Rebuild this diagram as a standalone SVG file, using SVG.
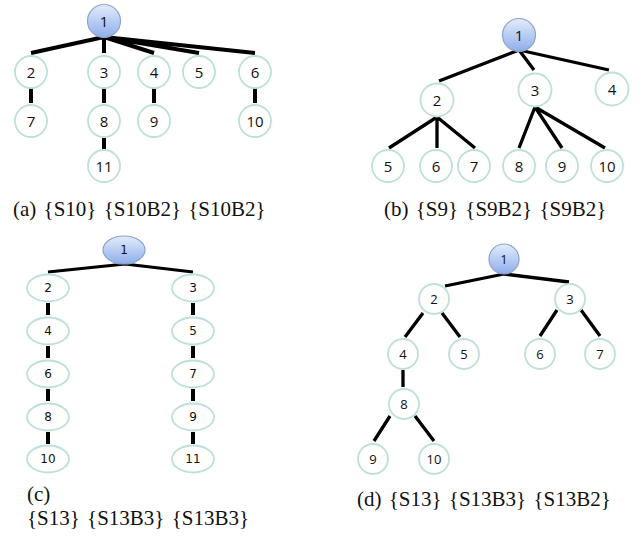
<svg xmlns="http://www.w3.org/2000/svg" width="644" height="540" viewBox="0 0 644 540">
<defs>
<linearGradient id="g" x1="0" y1="0" x2="0" y2="1">
<stop offset="0" stop-color="#e3ecfc"/>
<stop offset="1" stop-color="#8eaeea"/>
</linearGradient>
<style>
.n{fill:#fff;stroke:#bfdfdb;stroke-width:1.8}
.r{fill:url(#g);stroke:#8ea3c9;stroke-width:1.2}
.t{font-family:"Open Sans","Liberation Sans",sans-serif;font-size:15px;fill:#111;text-anchor:middle;dominant-baseline:central}
.tc{font-family:"DejaVu Sans",sans-serif;font-size:12px;fill:#111;text-anchor:middle;dominant-baseline:central}
.td{font-family:"Open Sans","Liberation Sans",sans-serif;font-size:13px;fill:#111;text-anchor:middle;dominant-baseline:central}
.e{stroke:#000;stroke-width:4;fill:none;stroke-linecap:butt}
.e3{stroke:#000;stroke-width:3.3;fill:none}
.cap{font-size:21px;fill:#111;word-spacing:2px}
</style>
</defs>
<rect width="644" height="540" fill="#fff"/>

<g id="connectors">
<path class="e" d="M104 37L31 53M104 37V53M104 37L154 53M104 37L199 53M104 37L255 53"/>
<path class="e" d="M31 88V103M104 88V103M154 88V103M255 88V103M104 138V149"/>
<path class="e3" d="M519 50L439 81M519 50L534 70M519 50L609 70"/>
<path class="e3" d="M437 117L389 148M437 117V148M437 117L475 148M535 107L519 148M535 107L562 148M535 107L605 148"/>
<path class="e3" style="stroke-width:3" d="M125 264L48 272M125 264L193 272"/>
<path class="e" d="M48 303V315M48 346V358M48 389V401M48 432V444M193 303V315M193 346V358M193 389V401M193 432V444"/>
<path class="e3" d="M504 274L445 286M504 274L569 282"/>
<path class="e3" d="M423 313L405 337M442 313L460 337M557 310L540 336M581 310L600 336M403 370V387M390 416L374 441M415 416L434 441"/>
</g>

<g id="a1"><circle class="r" cx="104" cy="21" r="16.5"/><text class="t" x="104" y="21">1</text></g>
<g id="a2"><circle class="n" cx="31" cy="72" r="16"/><text class="t" x="31" y="72">2</text></g>
<g id="a3"><circle class="n" cx="104" cy="72" r="16"/><text class="t" x="104" y="72">3</text></g>
<g id="a4"><circle class="n" cx="154" cy="72" r="16"/><text class="t" x="154" y="72">4</text></g>
<g id="a5"><circle class="n" cx="199" cy="72" r="16"/><text class="t" x="199" y="72">5</text></g>
<g id="a6"><circle class="n" cx="255" cy="72" r="16"/><text class="t" x="255" y="72">6</text></g>
<g id="a7"><circle class="n" cx="31" cy="121" r="16"/><text class="t" x="31" y="121">7</text></g>
<g id="a8"><circle class="n" cx="104" cy="121" r="16"/><text class="t" x="104" y="121">8</text></g>
<g id="a9"><circle class="n" cx="154" cy="121" r="16"/><text class="t" x="154" y="121">9</text></g>
<g id="a10"><circle class="n" cx="255" cy="121" r="16"/><text class="t" x="255" y="121">10</text></g>
<g id="a11"><circle class="n" cx="104" cy="166" r="16"/><text class="t" x="104" y="166">11</text></g>

<g id="b1"><circle class="r" cx="519" cy="35" r="16.5"/><text class="t" x="519" y="35">1</text></g>
<g id="b2"><circle class="n" cx="437" cy="100" r="16.5"/><text class="t" x="437" y="100">2</text></g>
<g id="b3"><circle class="n" cx="535" cy="90" r="16.5"/><text class="t" x="535" y="90">3</text></g>
<g id="b4"><circle class="n" cx="612" cy="89" r="16.5"/><text class="t" x="612" y="89">4</text></g>
<g id="b5"><circle class="n" cx="388" cy="166" r="16"/><text class="t" x="388" y="166">5</text></g>
<g id="b6"><circle class="n" cx="436" cy="166" r="16"/><text class="t" x="436" y="166">6</text></g>
<g id="b7"><circle class="n" cx="474" cy="166" r="16"/><text class="t" x="474" y="166">7</text></g>
<g id="b8"><circle class="n" cx="519" cy="166" r="16"/><text class="t" x="519" y="166">8</text></g>
<g id="b9"><circle class="n" cx="562" cy="166" r="16"/><text class="t" x="562" y="166">9</text></g>
<g id="b10"><circle class="n" cx="607" cy="166" r="16"/><text class="t" x="607" y="166">10</text></g>

<g id="c1"><ellipse class="r" cx="124" cy="250" rx="21" ry="14"/><text class="tc" x="124" y="250">1</text></g>
<g id="c2"><ellipse class="n" cx="48" cy="288" rx="21" ry="13.5"/><text class="tc" x="48" y="288">2</text></g>
<g id="c4"><ellipse class="n" cx="48" cy="331" rx="21" ry="13.5"/><text class="tc" x="48" y="331">4</text></g>
<g id="c6"><ellipse class="n" cx="48" cy="374" rx="21" ry="13.5"/><text class="tc" x="48" y="374">6</text></g>
<g id="c8"><ellipse class="n" cx="48" cy="417" rx="21" ry="13.5"/><text class="tc" x="48" y="417">8</text></g>
<g id="c10"><ellipse class="n" cx="48" cy="459" rx="21" ry="13.5"/><text class="tc" x="48" y="459">10</text></g>
<g id="c3"><ellipse class="n" cx="193" cy="288" rx="21" ry="13.5"/><text class="tc" x="193" y="288">3</text></g>
<g id="c5"><ellipse class="n" cx="193" cy="331" rx="21" ry="13.5"/><text class="tc" x="193" y="331">5</text></g>
<g id="c7"><ellipse class="n" cx="193" cy="374" rx="21" ry="13.5"/><text class="tc" x="193" y="374">7</text></g>
<g id="c9"><ellipse class="n" cx="193" cy="417" rx="21" ry="13.5"/><text class="tc" x="193" y="417">9</text></g>
<g id="c11"><ellipse class="n" cx="193" cy="459" rx="21" ry="13.5"/><text class="tc" x="193" y="459">11</text></g>

<g id="d1"><circle class="r" cx="504" cy="259" r="15"/><text class="td" x="504" y="259">1</text></g>
<g id="d2"><circle class="n" cx="434" cy="299" r="15"/><text class="td" x="434" y="299">2</text></g>
<g id="d3"><circle class="n" cx="570" cy="299" r="15"/><text class="td" x="570" y="299">3</text></g>
<g id="d4"><circle class="n" cx="403" cy="354" r="15"/><text class="td" x="403" y="354">4</text></g>
<g id="d5"><circle class="n" cx="464" cy="354" r="15"/><text class="td" x="464" y="354">5</text></g>
<g id="d6"><circle class="n" cx="540" cy="354" r="15"/><text class="td" x="540" y="354">6</text></g>
<g id="d7"><circle class="n" cx="600" cy="354" r="15"/><text class="td" x="600" y="354">7</text></g>
<g id="d8"><circle class="n" cx="404" cy="404" r="15"/><text class="td" x="404" y="404">8</text></g>
<g id="d9"><circle class="n" cx="373" cy="459" r="15"/><text class="td" x="373" y="459">9</text></g>
<g id="d10"><circle class="n" cx="434" cy="459" r="15"/><text class="td" x="434" y="459">10</text></g>

<g id="captions" font-family="Liberation Serif, Times New Roman, DejaVu Serif, serif">
<text class="cap" x="13" y="216">(a) {S10} {S10B2} {S10B2}</text>
<text class="cap" x="384" y="216">(b) {S9} {S9B2} {S9B2}</text>
<text class="cap" x="27" y="501" font-size="20">(c)</text>
<text class="cap" x="27" y="525" font-size="20">{S13} {S13B3} {S13B3}</text>
<text class="cap" x="357" y="506">(d) {S13} {S13B3} {S13B2}</text>
</g>
</svg>
